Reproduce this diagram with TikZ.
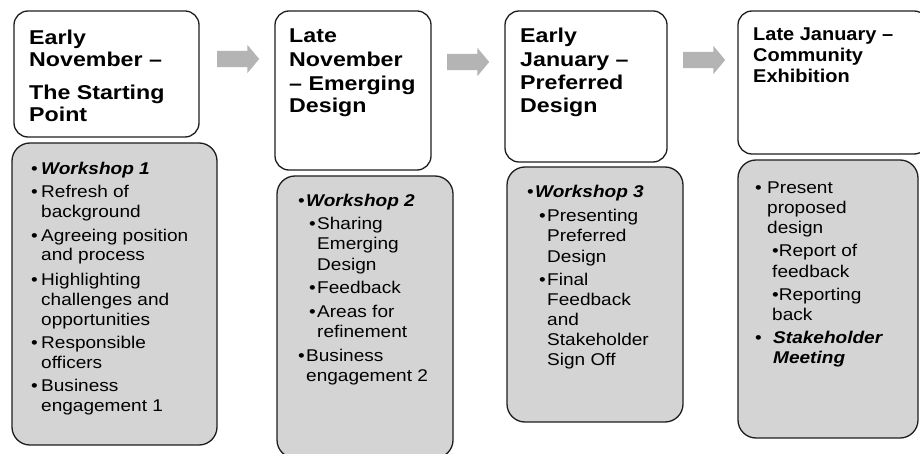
\documentclass[tikz,border=0pt]{standalone}
\usepackage{fontspec}
\setmainfont{Liberation Sans}[FakeStretch=1.12]
\newfontfamily\hdfam{Liberation Sans}[FakeStretch=1.16]
\newfontfamily\hdfamb{Liberation Sans}[FakeStretch=1.08]
\usetikzlibrary{shapes.arrows}
\definecolor{edgecol}{HTML}{1E1E1E}
\definecolor{bodyfill}{HTML}{D4D4D4}
\definecolor{arrowfill}{HTML}{B4B4B4}
\newcommand{\hdsize}{\hdfam\fontsize{20}{22}\selectfont\bfseries}
\newcommand{\hdsizeb}{\hdfamb\fontsize{18.5}{21}\selectfont\bfseries}
\newcommand{\bdsize}{\fontsize{17}{20}\selectfont}
\begin{document}
\begin{tikzpicture}[x=1pt,y=-1pt,
 hbox/.style={draw=edgecol, line width=1.3pt, rounded corners=14pt, fill=white, anchor=north west, inner sep=0pt, outer sep=0pt},
 bbox/.style={hbox, fill=bodyfill, rounded corners=18pt},
 hd/.style={font=\hdsize, inner sep=0pt, anchor=base west, text=black},
 hdb/.style={font=\hdsizeb, inner sep=0pt, anchor=base west, text=black},
 bd/.style={font=\bdsize, inner sep=0pt, anchor=base west, text=black},
 bi/.style={font=\bdsize\bfseries\itshape, inner sep=0pt, anchor=base west, text=black},
 flow/.style={single arrow, fill=arrowfill, draw=none, single arrow head extend=6pt, single arrow tip angle=100,
   text height=8pt, text depth=8pt, inner xsep=0pt, inner ysep=0pt, minimum width=28pt, minimum height=42pt, anchor=west}]
\useasboundingbox (0,0) rectangle (920,454);
\clip (0,0) rectangle (920,454);
\fill[white] (0,0) rectangle (920,454);

% boxes
\node[hbox, minimum width=185pt, minimum height=126pt] (h1) at (14,11) {};
\node[bbox, minimum width=205pt, minimum height=302pt] (b1) at (12,143) {};
\node[hbox, minimum width=156pt, minimum height=159pt] (h2) at (275,11) {};
\node[bbox, minimum width=176pt, minimum height=282pt] (b2) at (277,176) {};
\node[hbox, minimum width=162pt, minimum height=151pt] (h3) at (505,11) {};
\node[bbox, minimum width=176pt, minimum height=255pt] (b3) at (507,167) {};
\node[hbox, minimum width=190pt, minimum height=143pt] (h4) at (738,11) {};
\node[bbox, minimum width=180pt, minimum height=278pt] (b4) at (738,160) {};

% arrows
\node[flow] (a1) at (217,59) {};
\node[flow] (a2) at (447,62) {};
\node[flow] (a3) at (683,60) {};

% header 1
\node[hd] (t1a) at (29,45) {Early};
\node[hd] (t1b) at (29,67) {November –};
\node[hd] (t1c) at (29,100) {The Starting};
\node[hd] (t1d) at (29,122) {Point};
% header 2
\node[hd] (t2a) at (289,43) {Late};
\node[hd] (t2b) at (289,67) {November};
\node[hd] (t2c) at (289,91) {– Emerging};
\node[hd] (t2d) at (289,113) {Design};
% header 3
\node[hd] (t3a) at (520,43) {Early};
\node[hd] (t3b) at (520,67) {January –};
\node[hd] (t3c) at (520,90) {Preferred};
\node[hd] (t3d) at (520,113) {Design};
% header 4
\node[hdb] (t4a) at (753,41) {Late January –};
\node[hdb] (t4b) at (753,62) {Community};
\node[hdb] (t4c) at (753,83) {Exhibition};

% body 1
\node[bd] (p1) at (31,175) {•};
\node[bi] (p1a) at (41,175) {Workshop 1};
\node[bd] (p2) at (31,198) {•};
\node[bd] (p2a) at (41,198) {Refresh of};
\node[bd] (p2b) at (41,218) {background};
\node[bd] (p3) at (31,241) {•};
\node[bd] (p3a) at (41,241) {Agreeing position};
\node[bd] (p3b) at (41,261) {and process};
\node[bd] (p4) at (31,285) {•};
\node[bd] (p4a) at (41,285) {Highlighting};
\node[bd] (p4b) at (41,305) {challenges and};
\node[bd] (p4c) at (41,325) {opportunities};
\node[bd] (p5) at (31,348) {•};
\node[bd] (p5a) at (41,348) {Responsible};
\node[bd] (p5b) at (41,368) {officers};
\node[bd] (p6) at (31,391) {•};
\node[bd] (p6a) at (41,391) {Business};
\node[bd] (p6b) at (41,411) {engagement 1};

% body 2
\node[bd] (q1) at (298,207) {•};
\node[bi] (q1a) at (306,207) {Workshop 2};
\node[bd] (q2) at (309,230) {•};
\node[bd] (q2a) at (317,230) {Sharing};
\node[bd] (q2b) at (317,250) {Emerging};
\node[bd] (q2c) at (317,270) {Design};
\node[bd] (q3) at (309,293) {•};
\node[bd] (q3a) at (317,293) {Feedback};
\node[bd] (q4) at (309,317) {•};
\node[bd] (q4a) at (317,317) {Areas for};
\node[bd] (q4b) at (317,337) {refinement};
\node[bd] (q5) at (298,361) {•};
\node[bd] (q5a) at (306,361) {Business};
\node[bd] (q5b) at (306,381) {engagement 2};

% body 3
\node[bd] (r1) at (527,198) {•};
\node[bi] (r1a) at (535,198) {Workshop 3};
\node[bd] (r2) at (539,222) {•};
\node[bd] (r2a) at (547,222) {Presenting};
\node[bd] (r2b) at (547,242) {Preferred};
\node[bd] (r2c) at (547,262) {Design};
\node[bd] (r3) at (539,285) {•};
\node[bd] (r3a) at (547,285) {Final};
\node[bd] (r3b) at (547,305) {Feedback};
\node[bd] (r3c) at (547,325) {and};
\node[bd] (r3d) at (547,345) {Stakeholder};
\node[bd] (r3e) at (547,365) {Sign Off};

% body 4
\node[bd] (s1) at (755,194) {•};
\node[bd] (s1a) at (767,194) {Present};
\node[bd] (s1b) at (767,214) {proposed};
\node[bd] (s1c) at (767,234) {design};
\node[bd] (s2a) at (772,257) {•Report of};
\node[bd] (s2b) at (772,277) {feedback};
\node[bd] (s3a) at (772,300) {•Reporting};
\node[bd] (s3b) at (772,320) {back};
\node[bd] (s4) at (755,343) {•};
\node[bi] (s4a) at (773,343) {Stakeholder};
\node[bi] (s4b) at (773,363) {Meeting};
\end{tikzpicture}
\end{document}
